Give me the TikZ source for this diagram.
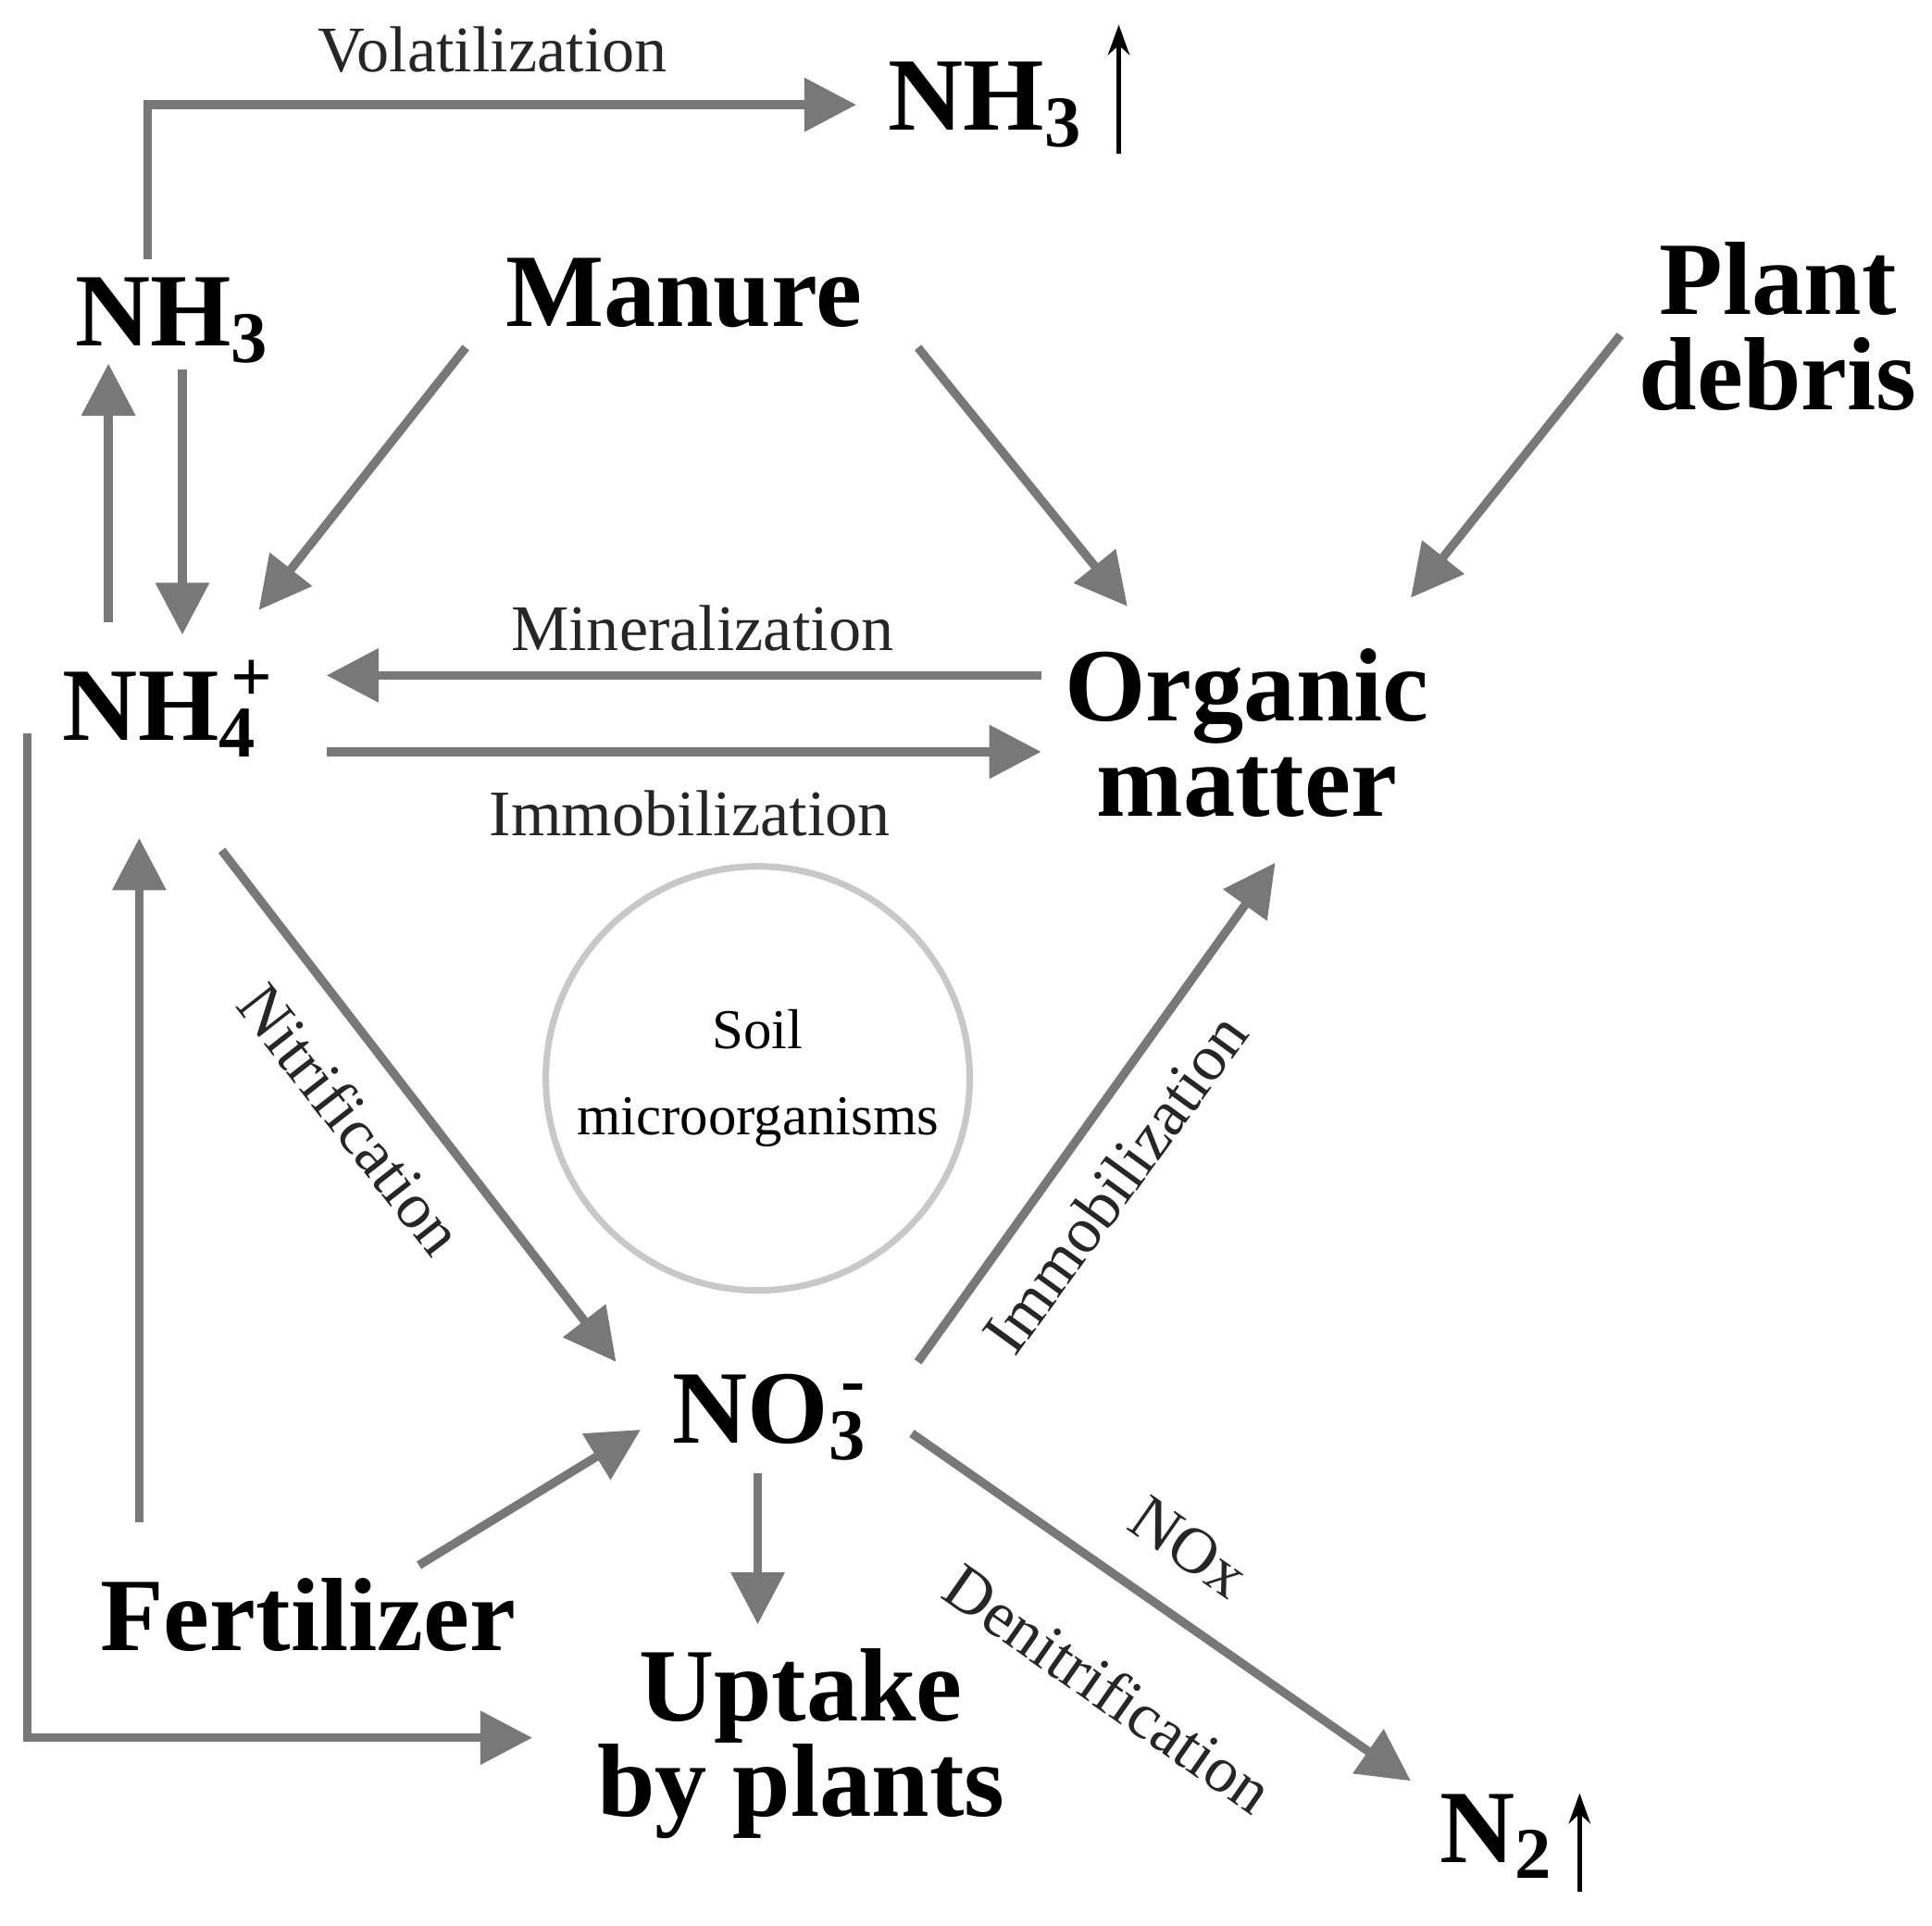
\documentclass[tikz,border=0pt]{standalone}
\usepackage{fontspec}
\setmainfont{Liberation Serif}
\usetikzlibrary{arrows.meta,positioning}
\definecolor{flow}{HTML}{787878}
\definecolor{ring}{HTML}{C8C8C8}
\tikzset{
  big/.style={font=\bfseries\fontsize{24}{26}\selectfont, align=center},
  lbl/.style={font=\fontsize{15}{17}\selectfont, text=black!85},
  arr/.style={-{Triangle[length=12pt,width=12pt]}, line width=2pt, draw=flow},
  up/.style={-{Stealth[length=7pt,width=5pt]}, line width=1pt, draw=black}
}
\begin{document}
\begin{tikzpicture}[x=0.01cm,y=-0.01cm]
  \useasboundingbox (0,0) rectangle (1568,1562);

  % substances
  \node[big] (nh3top) at (800,85) {NH\textsubscript{3}};
  \node[big] (nh3) at (140,260) {NH\textsubscript{3}};
  \node[big] (manure) at (555,238) {Manure};
  \node[big] (debris) at (1443,265) {Plant\\[-4pt]debris};
  \node[big] (nh4) at (130,575) {NH\rlap{\textsuperscript{\,+}}\textsubscript{4}};
  \node[big] (om) at (1012,595) {Organic\\[-4pt]matter};
  \node[big] (no3) at (625,1150) {NO\rlap{\textsuperscript{\,-}}\textsubscript{3}};
  \node[big] (fert) at (250,1310) {Fertilizer};
  \node[big] (uptake) at (650,1415) {Uptake\\[-4pt]by plants};
  \node[big] (n2) at (1215,1490) {N\textsubscript{2}};

  \node[draw=ring, line width=1.5pt, circle, minimum size=3.4cm,
        align=center, font=\fontsize{13}{20}\selectfont] (soil) at (615,875)
        {Soil\\microorganisms};

  % gas arrows
  \coordinate (g1a) at (908,125); \coordinate (g1b) at (908,20);
  \coordinate (g2a) at (1282,1535); \coordinate (g2b) at (1282,1455);
  \draw[up] (g1a) -- (g1b);
  \draw[up] (g2a) -- (g2b);

  % connector ends
  \coordinate (v0) at (120,210); \coordinate (v1) at (695,85);
  \coordinate (a1) at (88,505);  \coordinate (a2) at (88,295);
  \coordinate (b1) at (148,300); \coordinate (b2) at (148,515);
  \coordinate (m1) at (378,282); \coordinate (m2) at (210,495);
  \coordinate (m3) at (745,282); \coordinate (m4) at (915,492);
  \coordinate (p1) at (1315,272); \coordinate (p2) at (1145,485);
  \coordinate (r1) at (845,548); \coordinate (r2) at (265,548);
  \coordinate (i1) at (265,610); \coordinate (i2) at (845,610);
  \coordinate (n1) at (180,690); \coordinate (n2a) at (500,1105);
  \coordinate (j1) at (745,1105); \coordinate (j2) at (1035,700);
  \coordinate (f1) at (113,1235); \coordinate (f2) at (113,680);
  \coordinate (f3) at (340,1270); \coordinate (f4) at (520,1160);
  \coordinate (u1) at (615,1195); \coordinate (u2) at (615,1318);
  \coordinate (d1) at (740,1163); \coordinate (d2) at (1145,1445);
  \coordinate (l1) at (22,595);  \coordinate (l2) at (432,1410);

  \draw[arr] (v0) |- (v1);
  \draw[arr] (a1) -- (a2);
  \draw[arr] (b1) -- (b2);
  \draw[arr] (m1) -- (m2);
  \draw[arr] (m3) -- (m4);
  \draw[arr] (p1) -- (p2);
  \draw[arr] (r1) -- (r2);
  \draw[arr] (i1) -- (i2);
  \draw[arr] (n1) -- (n2a);
  \draw[arr] (j1) -- (j2);
  \draw[arr] (f1) -- (f2);
  \draw[arr] (f3) -- (f4);
  \draw[arr] (u1) -- (u2);
  \draw[arr] (d1) -- (d2);
  \draw[arr] (l1) |- (l2);

  % process labels
  \node[lbl] (vol) at (400,40) {Volatilization};
  \node[lbl] (min) at (570,510) {Mineralization};
  \node[lbl] (imm) at (560,660) {Immobilization};
  \node[lbl, rotate=-52] (nit) at (285,908) {Nitrification};
  \node[lbl, rotate=54] (imm2) at (905,960) {Immobilization};
  \node[lbl, rotate=-35] (nox) at (965,1255) {NOx};
  \node[lbl, rotate=-35] (den) at (900,1370) {Denitrification};
\end{tikzpicture}
\end{document}
